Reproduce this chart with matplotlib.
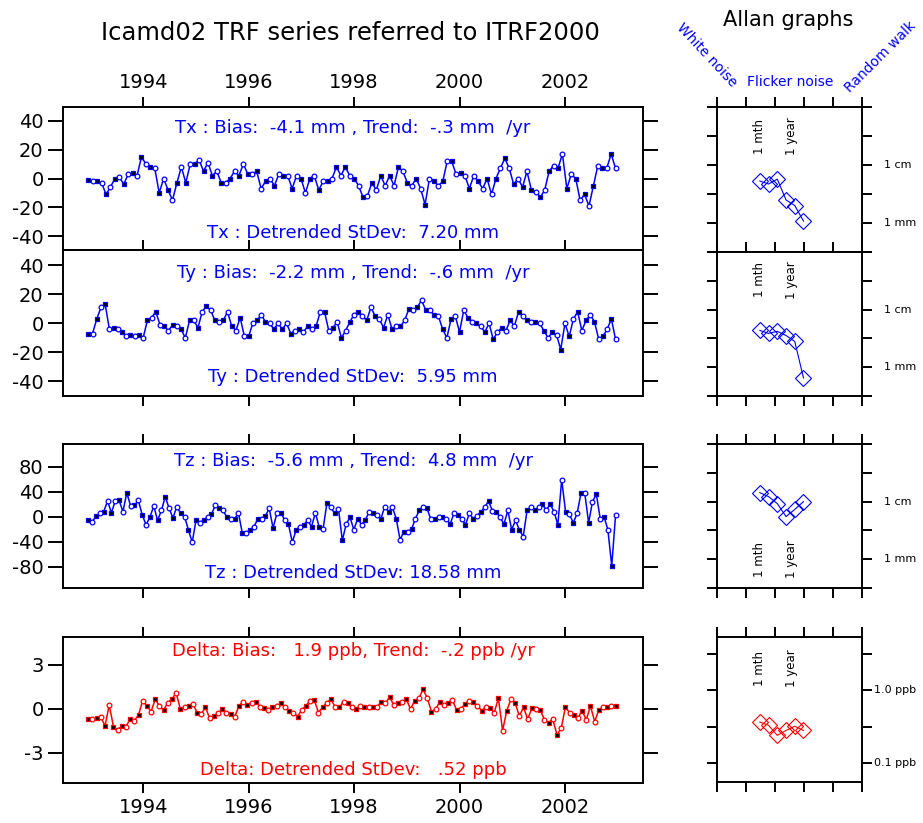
import matplotlib
matplotlib.use("Agg")
import matplotlib.pyplot as plt
import numpy as np

plt.rcParams['font.family'] = ['DejaVu Sans']

# monthly station offsets (mm) and scale (ppb), 1993 - 2003
tx_vals = [-1, -2, -2, -3, -11, -6, 0, 1, -4, 3, 4, 2, 15, 10, 8, 7,
           -10, 0, -8, -15, -3, 8, -3, 10, 10, 13, 5, 11, 2, 5, -3, -3, 0, 5, 2, 10,
           3, 3, 5, -7, -2, 0, -5, 3, 2, 2, -7, 2, 0, -10, 0, 2, -8, -2, -2, 0,
           8, 2, 8, 2, 0, -5, -13, -12, -3, -8, 2, -5, 2, -5, 8, 5, -3, -5, 0, -7,
           -18, 0, -2, -5, -2, 12, 12, 3,
           4, 2, -7, 2, -2, -7, 0, -11, 0, 7, 14, 7, -4, 0, -6, 5, -8, -9, -13, -8,
           5, 9, 7, 17, -7, 3, 0, -15, -11, -19, -5, 9, 7, 7, 17, 7]
ty_vals = [-7, -7, 3, 11, 13, -4, -3, -4, -6, -9, -8, -9, -8, -10, 2, 4, 8, -1, -2, -5,
           -1, -2, -4, -10, 2, 2, -3, 8, 12, 9, 2, 1, 2, 8, -2, -5, 4, -9, -9, 0,
           2, 6, 1, 0, -4, 0, -4, 0, -7, -5, -4, -6, -2, -4, -2, 8, 8, -5, -3, 1,
           -10, -5, 1, 6, 8, 5, 2, 11, 5, 3, -3, 6, -4, -2, -2, 2, 10, 9, 11, 16,
           9, 9, 6, 5,
           -4, -10, 3, 5, -6, 9, 4, 1, 0, -2, -6, 0, -11, -6, -3, -5, 2, -2, 8, 5,
           2, 1, 1, 0, -5, -10, -6, -8, -18, 0, -9, 3, 8, -5, 2, 6, 1, -11, -9, -4,
           3, -11]
tz_vals = [-6, -9, 1, 5, 8, 25, 6, 25, 26, 8, 38, 17, 18, 26, 3, -13, -1, 17, -6, 10,
           32, 13, -2, 16, 5, 0, -21, -41, -5, -10, -5, -1, 4, 18, 13, 10, -1, -4, -4, 6,
           -26, -26, -21, -17, -4, -3, 1, 13, -18, 5, 6, -5, -12, -41, -21, -16, -13, -6, -16, 6,
           -17, -20, 22, 15, 5, 12, -38, -12, -1, -21, -3, -13, -5, 8, 5, 3, -4, 16, 8, 15,
           -3, -37, -24, -24, -20, -3, 10, 15, 13, -4, -4, -1,
           -1, -3, -12, 5, 3, -3, -13, 5, -3, 1, 8, 15, 25, 9, 8, -1, -12, 10, -21, -6,
           -21, -32, 10, 15, 10, 15, 20, 10, 20, 8, -13, 59, 8, 4, -10, 5, 37, 37, -10, 24,
           36, -3, 0, -21, -79, 3]
delta_vals = [-0.7, -0.7, -0.65, -0.57, -1.16, 0.27, -1.2, -1.43, -1.16, -1.2,
              -0.7, -0.8, -0.4, 0.57, 0.2, -0.18, 0.66, 0.2, -0.07, 0.43,
              0.66, 1.1, -0.02, 0.11, 0.2, 0.34, -0.25, -0.34, 0.11, -0.64,
              -0.48, -0.3, -0.02, -0.25, -0.34, -0.52, 0.2, 0.5, 0.27, 0.43,
              0.5, 0.16, 0.05, -0.07, 0.11, 0.2, 0.39, 0.11, -0.11, -0.25,
              -0.52, -0.07, 0.2, 0.57, 0.61, -0.25, 0.11, 0.43, 0.66, 0.11,
              0.11, 0.5, 0.43, 0.11, -0.02, 0.2, 0.11, 0.11, 0.11, 0.11,
              0.5, 0.39, 0.8, 0.27, 0.39, 0.5, 0.66, -0.02, 0.57, 0.73,
              1.34, 0.73, -0.18, -0.02, 0.5, 0.27, 0.43, 0.61,
              -0.07, -0.02, 0.34, 0.57, 0.5, 0.2, -0.11, 0.11, 0.05, -0.25,
              0.73, -1.48, -0.11, 0.66, 0.39, -0.48, 0.11, -0.7, 0.05, -0.02,
              -0.07, -0.75, -0.93, -0.7, -1.77, -1.32, 0.11, -0.25, -0.41, -0.64,
              -0.11, -0.75, 0.2, -0.86, -0.07, 0.11, 0.11, 0.2, 0.2]

t_start, t_end = 1992.96, 2002.96

# Allan deviations at doubling averaging times
allan_tau_days = [30, 60, 120, 240, 480, 960]
allan_tx = [5.3, 4.7, 5.7, 2.5, 2.0, 1.08]
allan_ty = [4.35, 3.86, 4.2, 3.55, 2.8, 0.65]
allan_tz = [14.3, 12.2, 9.25, 5.5, 7.3, 10.0]
allan_delta = [0.365, 0.33, 0.24, 0.28, 0.32, 0.28]

year_ticks = [1994, 1996, 1998, 2000, 2002]

BLUE = '#0000ff'
RED = '#ff0000'

W, H = 923, 823
fig = plt.figure(figsize=(W / 100, H / 100), dpi=100)


def box(x0, y0, x1, y1):
    # pixel box -> figure fraction
    return [x0 / W, 1 - y1 / H, (x1 - x0) / W, (y1 - y0) / H]


def series_panel(rect, vals, ylim, yticks, color, line1, line2, y1, y2,
                 top=True, bottom=True, toplabels=False, botlabels=False):
    ax = fig.add_axes(rect)
    t = np.linspace(t_start, t_end, len(vals))
    v = np.array(vals, dtype=float)
    ax.plot(t, v, '-', color=color, lw=1.1, zorder=2)
    ax.plot(t[::2], v[::2], 's', ms=3.2, mfc='black', mec=color, mew=0.9, zorder=3)
    ax.plot(t[1::2], v[1::2], 'o', ms=3.4, mfc='white', mec=color, mew=0.9, zorder=3)
    ax.set_xlim(1992.48, 2003.48)
    ax.set_ylim(*ylim)
    ax.set_yticks(yticks)
    ax.set_yticklabels([str(y) for y in yticks])
    ax.set_xticks(year_ticks)
    ax.tick_params(axis='x', direction='out', length=7.5, width=1.4, labelsize=14,
                   top=top, bottom=bottom, labeltop=toplabels, labelbottom=botlabels, pad=3)
    ax.tick_params(axis='y', direction='out', length=11, width=1.4, labelsize=14,
                   left=True, right=True, labelleft=True, labelright=False, pad=3)
    for s in ax.spines.values():
        s.set_linewidth(1.4)
    ax.text(0.5, y1, line1, transform=ax.transAxes, ha='center', va='center',
            color=color, fontsize=13)
    ax.text(0.5, y2, line2, transform=ax.transAxes, ha='center', va='center',
            color=color, fontsize=13)
    return ax


def allan_panel(rect, vals, ylim, yticks, ylabels, color, ylab_pos, label_y, lab_off=16):
    ax = fig.add_axes(rect)
    ax.set_xscale('log')
    ax.set_yscale('log')
    ax.plot(allan_tau_days, vals, '-', color=color, lw=0.8, zorder=2)
    ax.plot(allan_tau_days, vals, 'D', ms=8, mfc='none', mec=color, mew=0.8, zorder=3)
    ax.set_xlim(1, 1e5)
    ax.set_ylim(*ylim)
    ax.set_xticks(10.0 ** np.arange(0, 6))
    ax.set_xticklabels([])
    ax.set_yticks(yticks)
    ax.set_yticklabels([])
    ax.minorticks_off()
    ax.tick_params(direction='out', length=7.5, width=1.4,
                   top=True, bottom=True, left=True, right=True)
    for s in ax.spines.values():
        s.set_linewidth(1.4)
    for lbl, pos in zip(ylabels, ylab_pos):
        ax.annotate(lbl, xy=(1, pos), xycoords=('axes fraction', 'data'),
                    xytext=(lab_off, 0), textcoords='offset points',
                    ha='left', va='center', fontsize=8)
    ax.text(30, label_y, '1 mth', rotation=90, ha='center', va='center', fontsize=8.5)
    ax.text(365, label_y, '1 year', rotation=90, ha='center', va='center', fontsize=8.5)
    return ax


series_panel(box(63, 107, 643, 250), tx_vals, (-49.5, 49.5), [-40, -20, 0, 20, 40], BLUE,
             'Tx : Bias:  -4.1 mm , Trend:  -.3 mm  /yr', 'Tx : Detrended StDev:  7.20 mm',
             0.853, 0.119, top=True, bottom=False, toplabels=True)
series_panel(box(63, 250, 643, 396), ty_vals, (-50, 50.5), [-40, -20, 0, 20, 40], BLUE,
             'Ty : Bias:  -2.2 mm , Trend:  -.6 mm  /yr', 'Ty : Detrended StDev:  5.95 mm',
             0.842, 0.13)
series_panel(box(63, 444, 643, 588), tz_vals, (-114, 116), [-80, -40, 0, 40, 80], BLUE,
             'Tz : Bias:  -5.6 mm , Trend:  4.8 mm  /yr', 'Tz : Detrended StDev: 18.58 mm',
             0.882, 0.104)
series_panel(box(63, 637, 643, 783), delta_vals, (-5.05, 4.9), [-3, 0, 3], RED,
             'Delta: Bias:   1.9 ppb, Trend:  -.2 ppb /yr', 'Delta: Detrended StDev:   .52 ppb',
             0.904, 0.089, botlabels=True)

mm_ticks = 10.0 ** np.arange(-0.5, 2.01, 0.5)
allan_panel(box(717, 107, 862, 252), allan_tx, (10 ** -0.5, 10 ** 1.98), mm_ticks,
            ['1 cm', '1 mm'], BLUE, [10, 1], 10 ** 1.5)
allan_panel(box(717, 252, 862, 396), allan_ty, (10 ** -0.5, 10 ** 1.98), mm_ticks,
            ['1 cm', '1 mm'], BLUE, [10, 1], 10 ** 1.52)
allan_panel(box(717, 444, 862, 588), allan_tz, (10 ** -0.5, 10 ** 1.98), mm_ticks,
            ['1 cm', '1 mm'], BLUE, [10, 1], 1.0)
allan_panel(box(717, 637, 862, 782), allan_delta, (10 ** -1.26, 10 ** 0.73),
            10.0 ** np.arange(-1, 0.51, 0.5), ['1.0 ppb', '0.1 ppb'], RED, [1.0, 0.1],
            10 ** 0.3, lab_off=9)

fig.text(350 / W, 1 - 33 / H, 'Icamd02 TRF series referred to ITRF2000',
         ha='center', va='center', fontsize=17.5)
fig.text(788 / W, 1 - 20 / H, 'Allan graphs', ha='center', va='center', fontsize=15)
fig.text(707 / W, 1 - 55 / H, 'White noise', ha='center', va='center', fontsize=10,
         color=BLUE, rotation=-47)
fig.text(790 / W, 1 - 82 / H, 'Flicker noise', ha='center', va='center', fontsize=10,
         color=BLUE)
fig.text(880 / W, 1 - 57 / H, 'Random walk', ha='center', va='center', fontsize=10,
         color=BLUE, rotation=45)

fig.savefig('out.png', dpi=100)
